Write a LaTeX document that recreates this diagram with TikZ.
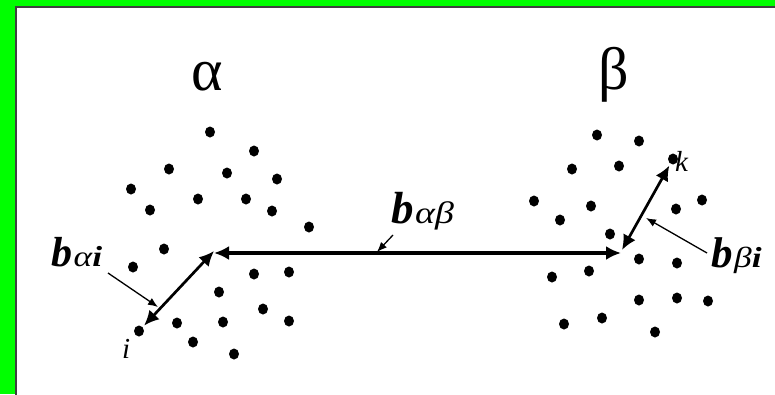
\documentclass[tikz,border=0pt]{standalone}
\usepackage{fontspec}
\setmainfont{Liberation Serif}
\newfontfamily\tms{Liberation Serif}
\newfontfamily\tmsw[FakeStretch=1.22]{Liberation Serif}
\usetikzlibrary{arrows.meta,shapes.geometric}
\begin{document}
\begin{tikzpicture}[x=1pt,y=-1pt,
  dot/.style={ellipse,fill=black,inner sep=0pt,minimum width=10pt,minimum height=11pt},
  bigarrow/.style={line width=3.4pt,{Latex[length=15pt,width=14pt]}-{Latex[length=15pt,width=14pt]}},
  pointer/.style={line width=1.3pt,-{Latex[length=10pt,width=8pt]}},
  lbl/.style={inner sep=0pt,anchor=base west}]
\useasboundingbox (0,0) rectangle (775,394);
\fill[green] (0,0) rectangle (775,394);
\draw[fill=white,draw=black!75,line width=1.5pt] (16,7) rectangle (777,396);
% greek cluster labels
\node[inner sep=0pt,anchor=base,font=\tms\fontsize{60}{60}\selectfont] (alpha) at (207,90) {α};
\node[inner sep=0pt,anchor=base,font=\tms\fontsize{60}{60}\selectfont] (beta) at (614,89) {β};
% left cluster
\foreach \n/\x/\y in {a1/210/132,a2/254/151,a3/169/169,a4/227/173,a5/277/179,a6/131/189,a7/198/199,a8/246/199,a9/150/210,a10/272/211,a11/309/227,a12/164/249,a13/133/267,a14/254/274,a15/289/272,a16/219/292,a17/263/309,a18/177/323,a19/223/322,a20/289/321,i/139/331,a21/193/342,a22/234/354}
  \node[dot] (\n) at (\x,\y) {};
% right cluster
\foreach \n/\x/\y in {b1/597/135,b2/639/141,b3/572/169,b4/619/166,k/673/159,b5/534/201,b6/591/206,b7/676/209,b8/702/200,b9/560/220,b10/610/234,b11/639/259,b12/677/263,b13/589/271,b14/552/277,b15/639/300,b16/677/298,b17/708/301,b18/602/318,b19/564/324,b20/655/332}
  \node[dot] (\n) at (\x,\y) {};
% arrow end points
\coordinate (A) at (214,253);
\coordinate (B) at (621,253);
\coordinate (Ad) at (214,251);
\coordinate (Bd) at (622,250);
\draw[bigarrow] (A) -- (B);
\draw[bigarrow,line width=2.7pt,shorten <=2pt] (i) -- (Ad);
\draw[bigarrow,line width=2.7pt,shorten >=2pt] (Bd) -- (k);
% labels
\node[lbl] (bab) at (391,223) {\tms\fontsize{45}{45}\selectfont\textbf{\textit{b}}\kern1.5pt{\tmsw\fontsize{31}{31}\selectfont\textit{αβ}}};
\node[lbl] (bai) at (51,266) {\tms\fontsize{42}{42}\selectfont\textbf{\textit{b}}\kern1.5pt{\tmsw\fontsize{29}{29}\selectfont\textit{α\textbf{i}}}};
\node[lbl] (bbi) at (711,267) {\tms\fontsize{43}{43}\selectfont\textbf{\textit{b}}\kern1.5pt{\tmsw\fontsize{29}{29}\selectfont\textit{β\textbf{i}}}};
\node[lbl,font=\tms\fontsize{29}{29}\selectfont\itshape] (ilbl) at (122,358) {i};
\node[lbl,font=\tms\fontsize{29}{29}\selectfont\itshape] (klbl) at (675,171) {k};
% pointers
\coordinate (p1) at (393,235);
\coordinate (p1e) at (377,252);
\draw[pointer] (p1) -- (p1e);
\coordinate (p2) at (108,273);
\coordinate (p2e) at (158,307);
\draw[pointer] (p2) -- (p2e);
\coordinate (p3) at (707,253);
\coordinate (p3e) at (646,218);
\draw[pointer] (p3) -- (p3e);
\end{tikzpicture}
\end{document}
